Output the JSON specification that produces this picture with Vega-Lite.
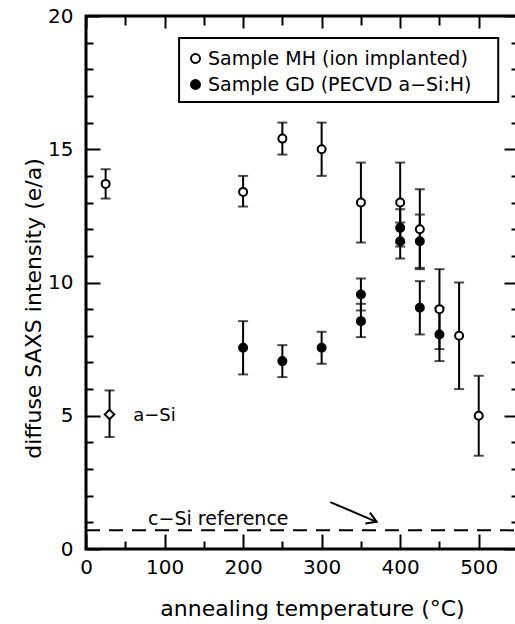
{
  "$schema": "https://vega.github.io/schema/vega-lite/v6.json",
  "width": 432,
  "height": 533,
  "autosize": {"type": "none"},
  "padding": {"left": 86, "top": 16, "right": 0, "bottom": 75},
  "background": "white",
  "config": {
    "view": {"stroke": "black", "strokeWidth": 3},
    "font": "DejaVu Sans",
    "axis": {
      "domain": false, "grid": false,
      "labelFont": "DejaVu Sans", "labelFontSize": 20, "labelColor": "black",
      "labelFlush": false, "labelOverlap": false, "labelBound": false,
      "tickColor": "black", "tickWidth": 2,
      "titleFont": "DejaVu Sans", "titleFontSize": 22, "titleFontWeight": "normal", "titleColor": "black"
    },
    "legend": {
      "orient": "none", "legendX": 100, "legendY": 33, "padding": 0,
      "labelFont": "DejaVu Sans", "labelFontSize": 19, "labelColor": "black", "labelLimit": 0,
      "symbolType": "circle", "symbolSize": 80, "symbolStrokeColor": "black", "symbolStrokeWidth": 2,
      "rowPadding": 6, "labelOffset": 3
    }
  },
  "datasets": {
    "pts": [
      {"T": 25, "v": 13.7, "lo": 13.15, "hi": 14.25, "s": "Sample MH (ion implanted)"},
      {"T": 200, "v": 13.4, "lo": 12.85, "hi": 14.0, "s": "Sample MH (ion implanted)"},
      {"T": 250, "v": 15.4, "lo": 14.8, "hi": 16.0, "s": "Sample MH (ion implanted)"},
      {"T": 300, "v": 15.0, "lo": 14.0, "hi": 16.0, "s": "Sample MH (ion implanted)"},
      {"T": 350, "v": 13.0, "lo": 11.5, "hi": 14.5, "s": "Sample MH (ion implanted)"},
      {"T": 400, "v": 13.0, "lo": 11.5, "hi": 14.5, "s": "Sample MH (ion implanted)"},
      {"T": 425, "v": 12.0, "lo": 10.5, "hi": 13.5, "s": "Sample MH (ion implanted)"},
      {"T": 450, "v": 9.0, "lo": 7.5, "hi": 10.5, "s": "Sample MH (ion implanted)"},
      {"T": 475, "v": 8.0, "lo": 6.0, "hi": 10.0, "s": "Sample MH (ion implanted)"},
      {"T": 500, "v": 5.0, "lo": 3.5, "hi": 6.5, "s": "Sample MH (ion implanted)"},
      {"T": 200, "v": 7.55, "lo": 6.55, "hi": 8.55, "s": "Sample GD (PECVD a−Si:H)"},
      {"T": 250, "v": 7.05, "lo": 6.45, "hi": 7.65, "s": "Sample GD (PECVD a−Si:H)"},
      {"T": 300, "v": 7.55, "lo": 6.95, "hi": 8.15, "s": "Sample GD (PECVD a−Si:H)"},
      {"T": 350, "v": 9.55, "lo": 8.95, "hi": 10.15, "s": "Sample GD (PECVD a−Si:H)"},
      {"T": 350, "v": 8.55, "lo": 7.95, "hi": 9.2, "s": "Sample GD (PECVD a−Si:H)"},
      {"T": 400, "v": 12.05, "lo": 11.35, "hi": 12.75, "s": "Sample GD (PECVD a−Si:H)"},
      {"T": 400, "v": 11.55, "lo": 10.9, "hi": 12.25, "s": "Sample GD (PECVD a−Si:H)"},
      {"T": 425, "v": 11.55, "lo": 10.55, "hi": 12.55, "s": "Sample GD (PECVD a−Si:H)"},
      {"T": 425, "v": 9.05, "lo": 8.05, "hi": 10.05, "s": "Sample GD (PECVD a−Si:H)"},
      {"T": 450, "v": 8.05, "lo": 7.05, "hi": 9.05, "s": "Sample GD (PECVD a−Si:H)"}
    ],
    "asi": [
      {"T": 30, "v": 5.05, "lo": 4.2, "hi": 5.95}
    ],
    "one": [{}]
  },
  "layer": [
    {
      "data": {"name": "one"},
      "mark": {"type": "rect", "fill": "white", "stroke": "black", "strokeWidth": 2},
      "encoding": {
        "x": {"datum": 118.5, "scale": {"domain": [0, 550], "nice": false, "zero": false}, "axis": {
          "orient": "top", "title": null, "labels": false,
          "values": [0, 50, 100, 150, 200, 250, 300, 350, 400, 450, 500, 550],
          "tickSize": {"condition": {"test": "datum.value % 100 === 0", "value": -12}, "value": -9}
        }},
        "x2": {"datum": 524.8},
        "y": {"datum": 16.77, "scale": {"domain": [0, 20], "nice": false, "zero": false}, "axis": {
          "orient": "right", "title": null, "labels": false,
          "values": [0,1,2,3,4,5,6,7,8,9,10,11,12,13,14,15,16,17,18,19,20],
          "tickSize": {"condition": {"test": "datum.value % 5 === 0", "value": -14}, "value": -7}
        }},
        "y2": {"datum": 19.17}
      }
    },
    {
      "data": {"name": "one"},
      "mark": {"type": "rule", "stroke": "black", "strokeWidth": 2, "strokeDash": [14, 9]},
      "encoding": {
        "x": {"datum": 0, "axis": null},
        "x2": {"datum": 550},
        "y": {"datum": 0.7, "axis": null}
      }
    },
    {
      "data": {"name": "pts"},
      "mark": {"type": "rule", "stroke": "black", "strokeWidth": 2},
      "encoding": {
        "x": {"field": "T", "type": "quantitative", "axis": null},
        "y": {"field": "lo", "type": "quantitative", "axis": null},
        "y2": {"field": "hi"}
      }
    },
    {
      "data": {"name": "pts"},
      "mark": {"type": "tick", "orient": "horizontal", "color": "black", "size": 10, "thickness": 2},
      "encoding": {
        "x": {"field": "T", "type": "quantitative", "axis": null},
        "y": {"field": "lo", "type": "quantitative", "axis": null}
      }
    },
    {
      "data": {"name": "pts"},
      "mark": {"type": "tick", "orient": "horizontal", "color": "black", "size": 10, "thickness": 2},
      "encoding": {
        "x": {"field": "T", "type": "quantitative", "axis": null},
        "y": {"field": "hi", "type": "quantitative", "axis": null}
      }
    },
    {
      "data": {"name": "asi"},
      "mark": {"type": "rule", "stroke": "black", "strokeWidth": 2},
      "encoding": {
        "x": {"field": "T", "type": "quantitative", "axis": null},
        "y": {"field": "lo", "type": "quantitative", "axis": null},
        "y2": {"field": "hi"}
      }
    },
    {
      "data": {"name": "asi"},
      "mark": {"type": "tick", "orient": "horizontal", "color": "black", "size": 10, "thickness": 2},
      "encoding": {
        "x": {"field": "T", "type": "quantitative", "axis": null},
        "y": {"field": "lo", "type": "quantitative", "axis": null}
      }
    },
    {
      "data": {"name": "asi"},
      "mark": {"type": "tick", "orient": "horizontal", "color": "black", "size": 10, "thickness": 2},
      "encoding": {
        "x": {"field": "T", "type": "quantitative", "axis": null},
        "y": {"field": "hi", "type": "quantitative", "axis": null}
      }
    },
    {
      "data": {"name": "asi"},
      "mark": {"type": "point", "shape": "diamond", "filled": true, "fill": "white", "stroke": "black", "strokeWidth": 2, "size": 90, "opacity": 1},
      "encoding": {
        "x": {"field": "T", "type": "quantitative", "axis": null},
        "y": {"field": "v", "type": "quantitative", "axis": null}
      }
    },
    {
      "data": {"name": "pts"},
      "mark": {"type": "point", "shape": "circle", "filled": true, "stroke": "black", "strokeWidth": 2, "size": 64, "opacity": 1},
      "encoding": {
        "x": {"field": "T", "type": "quantitative", "axis": {
          "orient": "bottom", "title": "annealing temperature (°C)",
          "values": [0, 50, 100, 150, 200, 250, 300, 350, 400, 450, 500, 550],
          "tickSize": {"condition": {"test": "datum.value % 100 === 0", "value": -15}, "value": -8},
          "labelExpr": "datum.value % 100 === 0 ? datum.label : ''",
          "labelPadding": 23,
          "titleX": 226, "titleY": 66, "titleBaseline": "alphabetic"
        }},
        "y": {"field": "v", "type": "quantitative", "axis": {
          "orient": "left", "title": "diffuse SAXS intensity (e/a)",
          "values": [0,1,2,3,4,5,6,7,8,9,10,11,12,13,14,15,16,17,18,19,20],
          "tickSize": {"condition": {"test": "datum.value % 5 === 0", "value": -14}, "value": -7},
          "labelExpr": "datum.value % 5 === 0 ? datum.label : ''",
          "labelPadding": 27,
          "titleX": -46, "titleY": 292, "titleBaseline": "alphabetic"
        }},
        "fill": {"field": "s", "type": "nominal",
          "scale": {"domain": ["Sample MH (ion implanted)", "Sample GD (PECVD a−Si:H)"], "range": ["white", "black"]},
          "legend": {"title": null}
        }
      }
    },
    {
      "data": {"name": "one"},
      "mark": {"type": "text", "text": "a−Si", "align": "left", "baseline": "middle", "fontSize": 18, "font": "DejaVu Sans", "color": "black"},
      "encoding": {
        "x": {"datum": 60, "axis": null},
        "y": {"datum": 5.0, "axis": null}
      }
    },
    {
      "data": {"name": "one"},
      "mark": {"type": "text", "text": "c−Si reference", "align": "left", "baseline": "middle", "fontSize": 19, "font": "DejaVu Sans", "color": "black"},
      "encoding": {
        "x": {"datum": 79, "axis": null},
        "y": {"datum": 1.13, "axis": null}
      }
    },
    {
      "data": {"name": "one"},
      "mark": {"type": "rule", "stroke": "black", "strokeWidth": 2},
      "encoding": {
        "x": {"datum": 311, "axis": null},
        "y": {"datum": 1.76, "axis": null},
        "x2": {"datum": 370},
        "y2": {"datum": 1.02}
      }
    },
    {
      "data": {"name": "one"},
      "mark": {"type": "point", "shape": "M-1,-0.6L0,0L-1,0.6", "filled": false, "stroke": "black", "strokeWidth": 2, "size": 380, "angle": 23, "opacity": 1},
      "encoding": {
        "x": {"datum": 370, "axis": null},
        "y": {"datum": 1.02, "axis": null}
      }
    }
  ],
  "resolve": {"axis": {"x": "independent", "y": "independent"}}
}
